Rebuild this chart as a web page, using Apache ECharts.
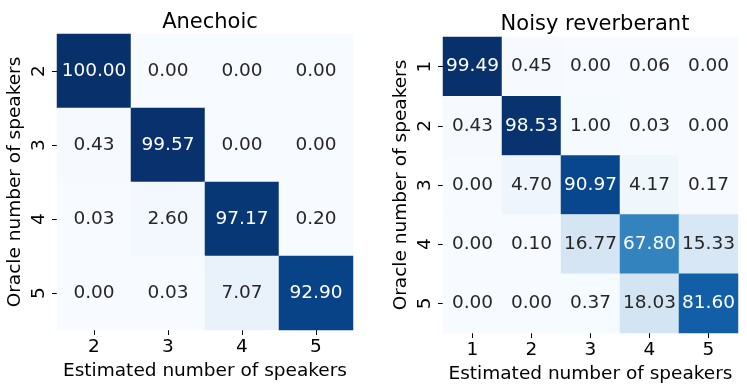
<!DOCTYPE html>
<html>
<head>
<meta charset="utf-8">
<script src="https://cdn.jsdelivr.net/npm/echarts@6/dist/echarts.min.js"></script>
<style>html,body{margin:0;padding:0;background:#fff}#c{width:747px;height:392px}</style>
</head>
<body>
<div id="c"></div>
<script>
// Data
const titles = ['Anechoic', 'Noisy reverberant'];
const anechoicCats = ['2', '3', '4', '5'];
const anechoicValues = [
  [100.00, 0.00, 0.00, 0.00],
  [0.43, 99.57, 0.00, 0.00],
  [0.03, 2.60, 97.17, 0.20],
  [0.00, 0.03, 7.07, 92.90]
];
const noisyCats = ['1', '2', '3', '4', '5'];
const noisyValues = [
  [99.49, 0.45, 0.00, 0.06, 0.00],
  [0.43, 98.53, 1.00, 0.03, 0.00],
  [0.00, 4.70, 90.97, 4.17, 0.17],
  [0.00, 0.10, 16.77, 67.80, 15.33],
  [0.00, 0.00, 0.37, 18.03, 81.60]
];
const xName = 'Estimated number of speakers';
const yName = 'Oracle number of speakers';

const blues = ['#f7fbff','#deebf7','#c6dbef','#9ecae1','#6baed6','#4292c6','#2171b5','#08519c','#08306b'];
const FONT = 'DejaVu Sans';
const DARK = '#262626';
const FS = 18.5;

function build(matrix) {
  let mx = 0;
  matrix.forEach(r => r.forEach(v => { if (v > mx) mx = v; }));
  const out = [];
  matrix.forEach((row, yi) => row.forEach((v, xi) => {
    out.push({ value: [xi, yi, v], label: { color: v / mx > 0.5 ? '#ffffff' : DARK } });
  }));
  return { data: out, max: mx };
}
const A = build(anechoicValues);
const N = build(noisyValues);

const grids = [
  { left: 57, top: 34, width: 296, height: 296 },
  { left: 443, top: 37, width: 295, height: 296 }
];

function xAxis(i, cats) {
  return {
    type: 'category', gridIndex: i, data: cats, position: 'bottom',
    name: xName, nameLocation: 'middle', nameGap: 32,
    nameTextStyle: { fontFamily: FONT, fontSize: FS, color: '#000' },
    axisLine: { show: false },
    axisTick: { show: true, alignWithLabel: true, length: 5, lineStyle: { color: '#000', width: 1 } },
    axisLabel: { fontFamily: FONT, fontSize: FS, color: '#000', margin: 8 },
    splitArea: { show: false }, splitLine: { show: false }
  };
}
function yAxis(i, cats) {
  return {
    type: 'category', gridIndex: i, data: cats, inverse: true,
    name: yName, nameLocation: 'middle', nameGap: 32, nameRotate: 90,
    nameTextStyle: { fontFamily: FONT, fontSize: FS, color: '#000' },
    axisLine: { show: false },
    axisTick: { show: true, alignWithLabel: true, length: 5, lineStyle: { color: '#000', width: 1 } },
    axisLabel: { fontFamily: FONT, fontSize: FS, color: '#000', rotate: 90, margin: 8 },
    splitArea: { show: false }, splitLine: { show: false }
  };
}
function series(i, B) {
  return {
    type: 'heatmap', xAxisIndex: i, yAxisIndex: i, data: B.data,
    label: {
      show: true, fontFamily: FONT, fontSize: FS,
      formatter: p => p.value[2].toFixed(2)
    },
    itemStyle: { borderWidth: 0 },
    emphasis: { disabled: true }
  };
}

const chart = echarts.init(document.getElementById('c'), null, { renderer: 'canvas' });
chart.setOption({
  animation: false,
  backgroundColor: '#ffffff',
  title: [
    { text: titles[0], left: 205, top: 7, textAlign: 'center', textStyle: { fontFamily: FONT, fontSize: 21, fontWeight: 'normal', color: '#000' } },
    { text: titles[1], left: 590, top: 9, textAlign: 'center', textStyle: { fontFamily: FONT, fontSize: 21, fontWeight: 'normal', color: '#000' } }
  ],
  grid: grids,
  xAxis: [xAxis(0, anechoicCats), xAxis(1, noisyCats)],
  yAxis: [yAxis(0, anechoicCats), yAxis(1, noisyCats)],
  visualMap: [
    { show: false, seriesIndex: 0, min: 0, max: A.max, dimension: 2, inRange: { color: blues } },
    { show: false, seriesIndex: 1, min: 0, max: N.max, dimension: 2, inRange: { color: blues } }
  ],
  series: [series(0, A), series(1, N)]
});
</script>
</body>
</html>
